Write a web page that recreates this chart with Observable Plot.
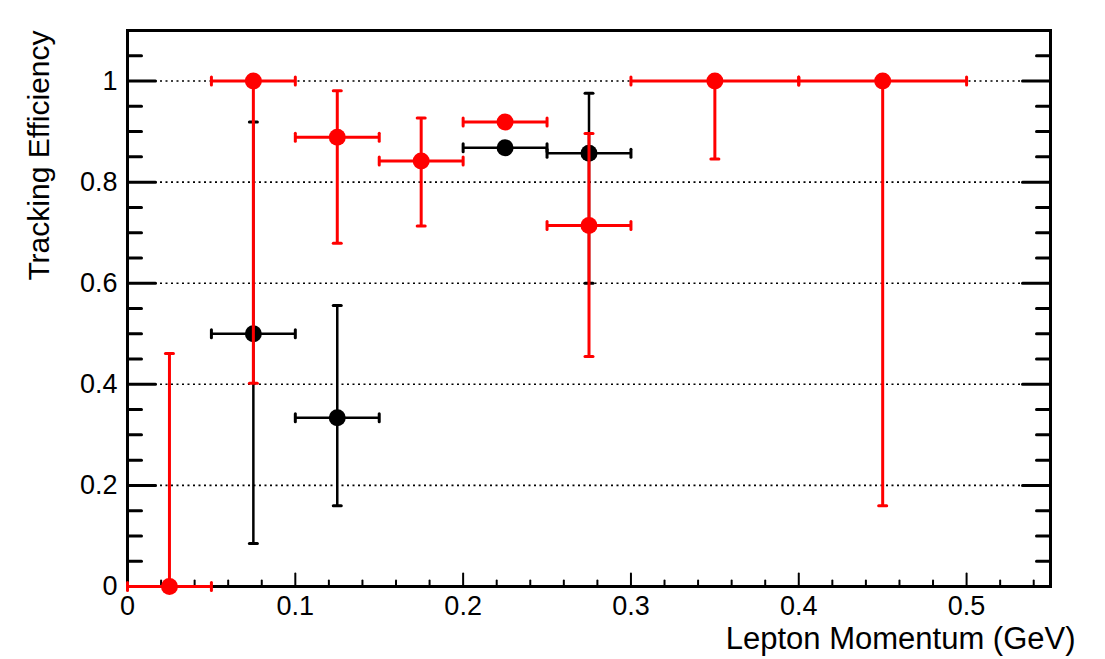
<!DOCTYPE html>
<html>
<head>
<meta charset="utf-8">
<script src="https://cdn.jsdelivr.net/npm/d3@7"></script>
<script src="https://cdn.jsdelivr.net/npm/@observablehq/plot@0.6"></script>
<style>
  html, body { margin: 0; padding: 0; background: #fff; }
  #chart svg { display: block; }
</style>
</head>
<body>
<div id="chart"></div>
<script>
// ---- Data ----
// Black series
const blackX   = [0.075, 0.125, 0.225, 0.275];
const blackXLo = [0.05, 0.10, 0.20, 0.25];
const blackXHi = [0.10, 0.15, 0.25, 0.30];
const blackY   = [0.500, 0.334, 0.868, 0.857];
const blackLo  = [0.085, 0.160, 0.868, 0.600];
const blackHi  = [0.919, 0.556, 0.868, 0.976];

// Red series
const redX   = [0.025, 0.075, 0.125, 0.175, 0.225, 0.275, 0.35, 0.45];
const redXLo = [0.00, 0.05, 0.10, 0.15, 0.20, 0.25, 0.30, 0.40];
const redXHi = [0.05, 0.10, 0.15, 0.20, 0.25, 0.30, 0.40, 0.50];
const redY   = [0.000, 1.000, 0.889, 0.842, 0.919, 0.714, 1.000, 1.000];
const redLo  = [0.000, 0.402, 0.679, 0.713, 0.919, 0.455, 0.846, 0.160];
const redHi  = [0.461, 1.000, 0.981, 0.927, 0.919, 0.896, 1.000, 1.000];

// Axis ticks / labels
const xTicks = [0, 0.1, 0.2, 0.3, 0.4, 0.5];
const yTicks = [0, 0.2, 0.4, 0.6, 0.8, 1];
const yGrid  = [0.2, 0.4, 0.6, 0.8, 1];
const xTitle = "Lepton Momentum (GeV)";
const yTitle = "Tracking Efficiency";

// minor ticks
const xMinor = d3.range(1, 28).map(i => i * 0.02).filter(v => Math.abs(v * 10 - Math.round(v * 10)) > 1e-6);
const yMinor = d3.range(1, 23).map(i => i * 0.05).filter(v => Math.abs(v * 5 - Math.round(v * 5)) > 1e-6);

// ---- build tables ----
const makeSeries = (x, xlo, xhi, y, lo, hi) =>
  x.map((v, i) => ({x: v, xlo: xlo[i], xhi: xhi[i], y: y[i], lo: lo[i], hi: hi[i]}));
const black = makeSeries(blackX, blackXLo, blackXHi, blackY, blackLo, blackHi);
const red = makeSeries(redX, redXLo, redXHi, redY, redLo, redHi);

const vCapsOf = s => s.flatMap(d => [
  d.lo < d.y ? {x: d.x, y: d.lo} : null,
  d.hi > d.y ? {x: d.x, y: d.hi} : null
].filter(Boolean));
const hCapsOf = s => s.flatMap(d => [{x: d.xlo, y: d.y}, {x: d.xhi, y: d.y}]);

const line = {draw(ctx, l) { ctx.moveTo(0, 0); ctx.lineTo(0, -l); }};

function seriesMarks(s, color, w) {
  return [
    Plot.ruleX(s.filter(d => d.hi > d.lo), {x: "x", y1: "lo", y2: "hi", stroke: color, strokeWidth: w}),
    Plot.ruleY(s, {y: "y", x1: "xlo", x2: "xhi", stroke: color, strokeWidth: w}),
    Plot.vector(vCapsOf(s), {x: "x", y: "y", rotate: 90, length: 8, anchor: "middle", shape: line, stroke: color, strokeWidth: 3}),
    Plot.vector(hCapsOf(s), {x: "x", y: "y", rotate: 0, length: 8, anchor: "middle", shape: line, stroke: color, strokeWidth: 3})
  ];
}

const chart = Plot.plot({
  width: 1105,
  height: 659,
  marginLeft: 127,
  marginRight: 55,
  marginTop: 30,
  marginBottom: 73,
  style: {fontFamily: "'Liberation Sans', Arial, Helvetica, sans-serif", background: "#fff", color: "#000"},
  x: {domain: [0, 0.55], axis: null},
  y: {domain: [0, 1.1], axis: null},
  marks: [
    Plot.ruleY(yGrid, {y: d => d, stroke: "#000", strokeWidth: 1.6, strokeDasharray: "2,3.5"}),
    // inside ticks
    Plot.vector(yTicks, {y: d => d, frameAnchor: "left", rotate: 90, length: 28, anchor: "start", shape: line, strokeWidth: 3}),
    Plot.vector(yMinor, {y: d => d, frameAnchor: "left", rotate: 90, length: 14, anchor: "start", shape: line, strokeWidth: 3}),
    Plot.vector(yTicks, {y: d => d, frameAnchor: "right", rotate: -90, length: 28, anchor: "start", shape: line, strokeWidth: 3}),
    Plot.vector(yMinor, {y: d => d, frameAnchor: "right", rotate: -90, length: 14, anchor: "start", shape: line, strokeWidth: 3}),
    Plot.vector(xTicks, {x: d => d, frameAnchor: "bottom", rotate: 0, length: 13, anchor: "start", shape: line, strokeWidth: 2}),
    Plot.vector(xMinor, {x: d => d, frameAnchor: "bottom", rotate: 0, length: 6, anchor: "start", shape: line, strokeWidth: 2}),
    Plot.frame({stroke: "#000", strokeWidth: 3}),
    // tick labels
    Plot.text(xTicks, {x: d => d, text: d => String(d), frameAnchor: "bottom", lineAnchor: "top", dy: 9, fontSize: 27, fill: "#000"}),
    Plot.text(yTicks, {y: d => d, text: d => String(d), frameAnchor: "left", textAnchor: "end", lineAnchor: "middle", dx: -10, fontSize: 27, fill: "#000"}),
    // black series
    ...seriesMarks(black, "#000", 2.5),
    Plot.dot(black, {x: "x", y: "y", r: 8.5, fill: "#000", stroke: "none"}),
    // red series
    ...seriesMarks(red, "#ff0000", 3),
    Plot.dot(red, {x: "x", y: "y", r: 8.5, fill: "#ff0000", stroke: "none"}),
    // titles
    Plot.text([xTitle], {frameAnchor: "bottom-right", text: d => d, textAnchor: "end", lineAnchor: "bottom", dx: 25, dy: 62, fontSize: 31}),
    Plot.text([yTitle], {frameAnchor: "top-left", text: d => d, rotate: -90, textAnchor: "end", lineAnchor: "bottom", dx: -79, dy: 0, fontSize: 30})
  ]
});
document.getElementById("chart").appendChild(chart);
</script>
</body>
</html>
